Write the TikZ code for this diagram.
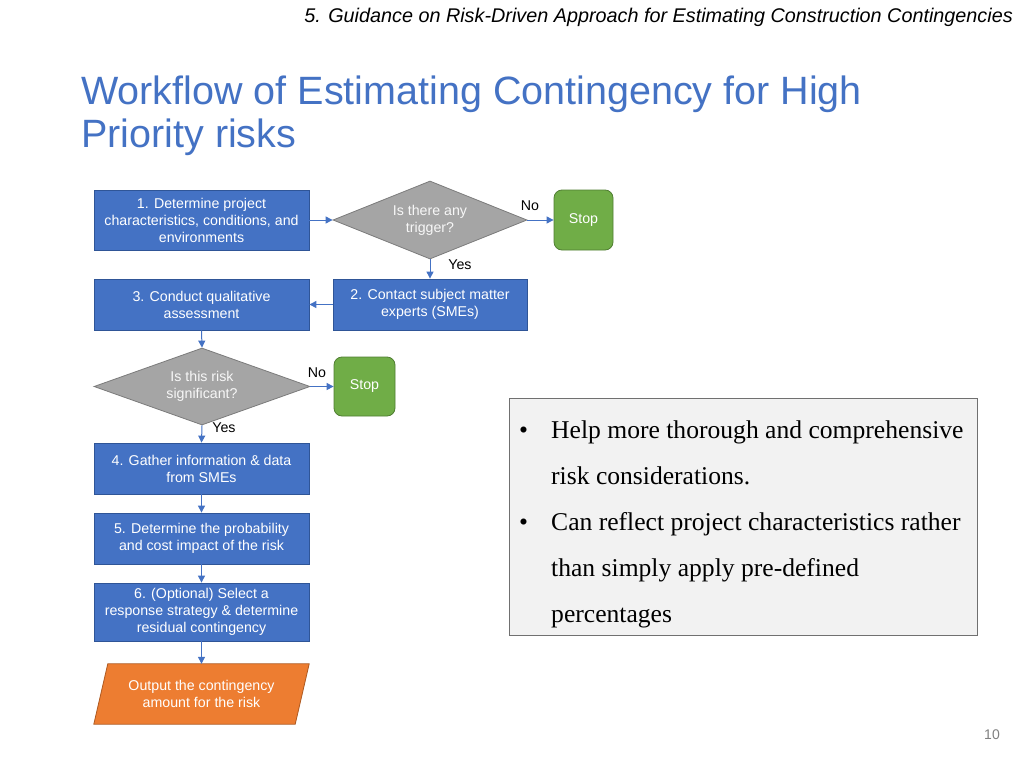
\documentclass[tikz,border=0pt]{standalone}
\usepackage{fontspec}
\setmainfont{Liberation Sans}
\newfontfamily\serifbody{Liberation Serif}
\usetikzlibrary{shapes.geometric,arrows.meta}
\definecolor{blu}{HTML}{4472C4}
\definecolor{bludark}{HTML}{2F5597}
\definecolor{grayfill}{HTML}{A5A5A5}
\definecolor{graydark}{HTML}{7B7B7B}
\definecolor{grn}{HTML}{70AD47}
\definecolor{grndark}{HTML}{507E32}
\definecolor{orng}{HTML}{ED7D31}
\definecolor{orngdark}{HTML}{AE5A21}
\definecolor{notefill}{HTML}{F2F2F2}
\definecolor{noteline}{HTML}{707070}
\tikzset{
  proc/.style={draw=bludark, fill=blu, text=white, line width=0.8pt, align=center,
    minimum width=215pt, minimum height=51pt, inner sep=2pt, font=\fontsize{14.2}{17}\selectfont},
  dec/.style={diamond, draw=graydark, fill=grayfill, text=white!94!gray, line width=0.8pt,
    align=center, inner sep=0pt, font=\fontsize{14.2}{17}\selectfont},
  stopbox/.style={draw=grndark, fill=grn, text=white, rounded corners=8pt, line width=0.8pt,
    minimum width=60pt, minimum height=60pt, inner sep=0pt, font=\fontsize{14.2}{17}\selectfont},
  outtext/.style={text=white, align=center, minimum width=215pt, minimum height=60pt,
    inner sep=0pt, font=\fontsize{14.2}{17}\selectfont},
  outshape/.style={draw=orngdark, fill=orng, line width=0.8pt},
  lbl/.style={text=black, font=\fontsize{14.2}{16}\selectfont, inner sep=0pt},
  arr/.style={draw=blu, line width=1pt, -{Triangle[length=7pt,width=7pt]}}
}
\begin{document}
\begin{tikzpicture}[x=1pt,y=-1pt]
\useasboundingbox (0,0) rectangle (1024,768);
\fill[white] (0,0) rectangle (1024,768);

% header and title
\node[anchor=east, inner sep=0pt, text=black, font=\itshape\fontsize{19.8}{22}\selectfont] (hdr) at (1013,17)
  {5. Guidance on Risk-Driven Approach for Estimating Construction Contingencies};
\node[anchor=north west, inner sep=0pt, align=left, text=blu, font=\fontsize{39.5}{43}\selectfont] (title) at (81,76)
  {Workflow of Estimating Contingency for High\\Priority risks};

% flowchart
\node[proc, minimum height=60pt] (b1) at (201.5,220) {1. Determine project\\characteristics, conditions, and\\environments};
\node[dec, aspect=2.49, minimum width=194pt, minimum height=78pt] (d1) at (430,220) {Is there any\\trigger?};
\node[stopbox, minimum width=59pt] (s1) at (583.5,220) {Stop};
\node[proc, minimum width=194pt] (b2) at (430,304.5) {2. Contact subject matter\\experts (SMEs)};
\node[proc] (b3) at (201.5,304.5) {3. Conduct qualitative\\assessment};
\node[dec, aspect=2.8, minimum width=216pt, minimum height=77pt] (d2) at (202,386.5) {Is this risk\\significant?};
\node[stopbox, minimum width=61pt, minimum height=59pt] (s2) at (364.5,386.5) {Stop};
\node[proc] (b4) at (201.5,468.5) {4. Gather information \& data\\from SMEs};
\node[proc] (b5) at (201.5,538.5) {5. Determine the probability\\and cost impact of the risk};
\node[proc, minimum height=58pt] (b6) at (201.5,612) {6. (Optional) Select a\\response strategy \& determine\\residual contingency};
\node[outtext] (out) at (201.5,694) {};
\draw[outshape] ([xshift=14pt]out.north west) -- (out.north east) -- ([xshift=-14pt]out.south east) -- (out.south west) -- cycle;
\node[outtext] at (out.center) {Output the contingency\\amount for the risk};

\draw[arr] (b1.east) -- (d1.west);
\draw[arr] (d1.east) -- (s1.west);
\draw[arr] (d1.south) -- (b2.north);
\draw[arr] (b2.west) -- (b3.east);
\draw[arr] (b3.south) -- (d2.north);
\draw[arr] (d2.east) -- (s2.west);
\draw[arr] (d2.south) -- (b4.north);
\draw[arr] (b4.south) -- (b5.north);
\draw[arr] (b5.south) -- (b6.north);
\draw[arr] (b6.south) -- (out.north);

\node[lbl] (no1) at (530,206) {No};
\node[lbl] (yes1) at (460,265) {Yes};
\node[lbl] (no2) at (317,373) {No};
\node[lbl] (yes2) at (224,428) {Yes};

% note box
\node[draw=noteline, fill=notefill, line width=0.8pt, minimum width=468pt, minimum height=237pt, inner sep=0pt] (note) at (743,516.5) {};
\node[anchor=north west, inner sep=0pt, align=left, text=black, font=\serifbody\fontsize{25.6}{46}\selectfont] (notetxt) at (519,421)
  {\makebox[32pt][l]{•}Help more thorough and comprehensive\\
   \hspace*{32pt}risk considerations.\\
   \makebox[32pt][l]{•}Can reflect project characteristics rather\\
   \hspace*{32pt}than simply apply pre-defined\\
   \hspace*{32pt}percentages};

\node[text=gray, font=\fontsize{14}{16}\selectfont, inner sep=0pt] (pg) at (992,735) {10};
\end{tikzpicture}
\end{document}
